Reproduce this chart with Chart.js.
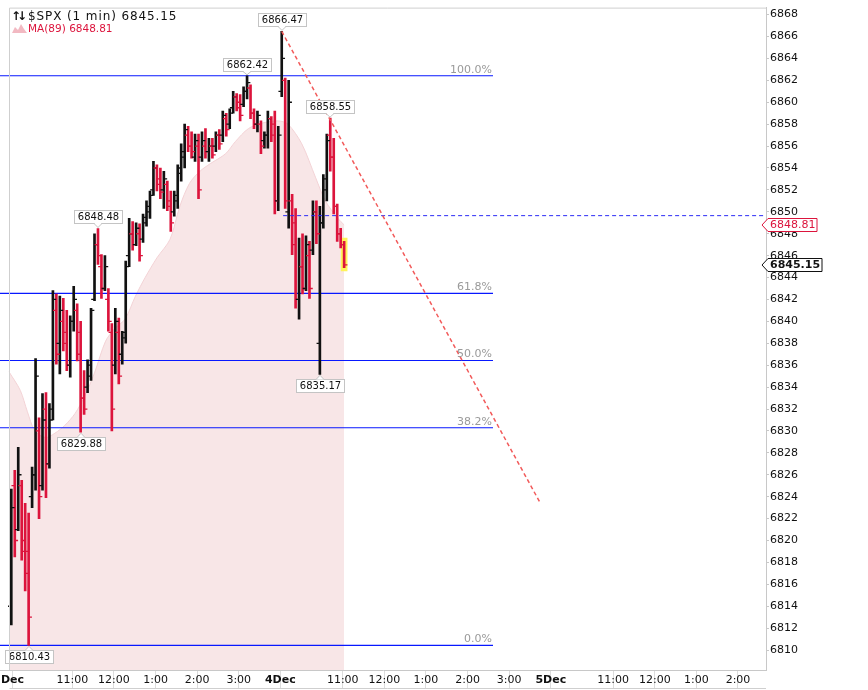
<!DOCTYPE html>
<html lang="en">
<head>
<meta charset="UTF-8">
<title>$SPX (1 min)</title>
<script src="https://cdn.jsdelivr.net/npm/chart.js"></script>
<style>
    html, body { margin: 0; padding: 0; background: #fff; }
    #wrap { position: relative; width: 868px; height: 690px; }
</style>
</head>
<body>
<div id="wrap"><canvas id="spxChart"></canvas></div>
<script>
// x values are session minutes: 0 = 9:30 Dec 3, 390 = open Dec 4, 780 = open Dec 5
const barStart = 2;
const barStep = 5;

const opens = [
    6814, 6825, 6821, 6825, 6820, 6819, 6824, 6826, 6830, 6825,
    6832, 6827, 6832, 6841, 6838, 6840, 6839, 6836, 6840, 6841,
    6839, 6833, 6834, 6835, 6842, 6847, 6845, 6843, 6842, 6839,
    6836, 6839, 6837, 6839, 6846, 6848, 6847, 6848, 6847.5, 6849,
    6850, 6852, 6854, 6853, 6852, 6852.5, 6851, 6850, 6851, 6853.5,
    6855, 6857, 6856, 6855, 6856, 6855, 6856, 6855.5, 6856, 6856,
    6857, 6857, 6858.5, 6858, 6859.5, 6860.5, 6860, 6859.8, 6861, 6861.3,
    6859, 6858, 6858, 6856.5, 6857, 6858.5, 6858, 6851, 6861, 6862,
    6850, 6851, 6849, 6842, 6845, 6843, 6846, 6846.5, 6850, 6838,
    6849, 6852, 6857, 6855, 6850.5, 6848, 6847
];
const highs = [
    6824.7, 6826.4, 6828.5, 6825.5, 6823.4, 6822.5, 6826.7, 6836.6, 6831.2, 6833.4,
    6833.5, 6832.5, 6842.8, 6842.5, 6842.3, 6842.1, 6841.0, 6840.5, 6843.2, 6841.6,
    6840.0, 6835.5, 6836.5, 6841.2, 6848.0, 6848.48, 6846.1, 6846.0, 6843.0, 6839.8,
    6841.2, 6840.3, 6839.1, 6845.5, 6849.4, 6849.1, 6849.0, 6848.9, 6849.8, 6851.0,
    6851.9, 6854.6, 6854.3, 6854.0, 6853.7, 6852.8, 6851.9, 6851.9, 6854.3, 6856.2,
    6858.0, 6857.8, 6857.3, 6857.1, 6857.1, 6857.3, 6857.6, 6856.7, 6856.7, 6857.3,
    6857.5, 6859.2, 6859.0, 6859.4, 6861.0, 6860.8, 6860.7, 6861.4, 6862.42, 6861.6,
    6859.4, 6859.2, 6858.3, 6857.3, 6859.2, 6858.7, 6859.2, 6857.8, 6866.47, 6862.2,
    6862.0, 6851.6, 6850.3, 6847.6, 6848.0, 6847.8, 6847.3, 6851.0, 6851.0, 6850.5,
    6853.4, 6857.1, 6858.55, 6856.7, 6850.7, 6848.5, 6847.3
];
const lows = [
    6812.3, 6818.5, 6820.9, 6818.2, 6815.4, 6810.43, 6823.0, 6824.6, 6822.0, 6824.6,
    6823.9, 6826.6, 6831.0, 6836.1, 6835.2, 6837.3, 6835.5, 6834.9, 6839.1, 6836.4,
    6829.88, 6831.5, 6833.5, 6834.6, 6841.9, 6845.2, 6842.1, 6842.8, 6839.1, 6830.0,
    6835.2, 6834.3, 6836.1, 6838.0, 6845.0, 6846.5, 6846.9, 6845.5, 6847.2, 6848.7,
    6849.4, 6851.5, 6851.9, 6851.2, 6850.3, 6850.1, 6848.2, 6849.6, 6850.3, 6852.8,
    6854.0, 6855.5, 6854.9, 6854.6, 6851.2, 6854.6, 6854.9, 6854.6, 6854.9, 6855.5,
    6855.7, 6856.4, 6856.9, 6857.6, 6859.0, 6859.2, 6858.3, 6859.6, 6860.3, 6858.5,
    6857.6, 6857.3, 6855.3, 6855.8, 6855.8, 6856.4, 6849.8, 6850.1, 6860.5, 6850.3,
    6848.5, 6846.1, 6841.2, 6840.2, 6842.5, 6842.8, 6842.1, 6846.1, 6847.1, 6835.17,
    6848.5, 6851.0, 6853.7, 6849.8, 6847.3, 6846.7, 6844.9
];
const closes = [
    6823, 6820, 6826, 6819, 6817, 6813, 6826, 6835, 6824, 6831,
    6827, 6831, 6842, 6837, 6841, 6838, 6836, 6840, 6842, 6837,
    6833, 6832, 6836, 6841, 6847, 6846, 6843, 6845, 6840, 6832,
    6840, 6835, 6838.5, 6845, 6848, 6847, 6848.5, 6846, 6849.5, 6850.5,
    6851.5, 6854, 6852.5, 6851.8, 6853, 6850.5, 6849, 6851.5, 6854, 6855.5,
    6857.5, 6856, 6855.5, 6856.5, 6852, 6856.5, 6855.5, 6856, 6855.2, 6857,
    6856.2, 6858.8, 6857.5, 6859, 6860.5, 6859.5, 6858.8, 6861, 6861.8, 6859,
    6858, 6858.8, 6856, 6857, 6858.5, 6857, 6851, 6857, 6864, 6851,
    6860, 6847, 6842, 6845, 6843, 6847, 6843, 6850, 6848, 6849,
    6853, 6856.5, 6855, 6850.5, 6848, 6847, 6845.15
];

// MA(89) outline
const maTimes = [-1.3, 15, 25, 36, 51, 65, 79, 94, 108, 122, 138, 152, 166, 181, 195, 212,
    231, 245, 259, 274, 289, 311, 325, 344, 364, 387, 401, 421, 441, 455, 473, 482];
const maValues = [6835.4, 6833.7, 6831.8, 6830.0, 6829.4, 6829.8, 6830.5, 6831.6, 6833.2, 6835.3,
    6838.2, 6839.4, 6840.2, 6842.3, 6844.0, 6845.8, 6847.5, 6850.5, 6852.6, 6853.7, 6854.4,
    6855.3, 6856.4, 6857.6, 6858.1, 6858.3, 6858.0, 6856.2, 6853.1, 6851.0, 6849.4, 6848.81];

// Fibonacci retracement 6810.43 -> 6862.42
const fibLevels = [6862.42, 6842.56, 6836.43, 6830.29, 6810.43];
const fibLabels = ['100.0%', '61.8%', '50.0%', '38.2%', '0.0%'];
const fibSpan = [-14.3, 696.7];

const trendTimes = [392, 764.5];
const trendValues = [6866.47, 6823.46];
const levelValue = 6849.65;
const levelSpan = [394, 1090.4];

// price annotations
const annoTimes = [392, 342, 462, 127, 102, 447, 27];
const annoPrices = [6866.47, 6862.42, 6858.55, 6848.48, 6829.88, 6835.17, 6810.43];
const annoBelow = [false, false, false, false, true, true, true];

const xRange = [-14.3, 1090.4];
const plotStart = -1.3;
const xTickValues = [3.7, 90, 150, 210, 270, 330, 390, 480, 540, 600, 660, 720, 780, 870, 930, 990, 1050];
const xTickLabels = ['Dec', '11:00', '12:00', '1:00', '2:00', '3:00', '4Dec', '11:00', '12:00', '1:00',
    '2:00', '3:00', '5Dec', '11:00', '12:00', '1:00', '2:00'];
const yRange = [6808.18, 6868.64];
const yTickValues = [6810, 6812, 6814, 6816, 6818, 6820, 6822, 6824, 6826, 6828, 6830, 6832, 6834,
    6836, 6838, 6840, 6842, 6844, 6846, 6848, 6850, 6852, 6854, 6856, 6858, 6860, 6862, 6864, 6866, 6868];

const UP = '#111111';
const DOWN = '#dc143c';
const tickOff = 2.3;

const barTime = i => barStart + i * barStep;
const barColors = closes.map((c, i) => c >= opens[i] ? UP : DOWN);
const last = closes.length - 1;

function tagBox(ctx, px, py, text, below) {
    ctx.save();
    ctx.font = '10px "DejaVu Sans"';
    const w = Math.round(ctx.measureText(text).width) + 7;
    const h = 13;
    const bx = Math.round(px - w / 2) + 0.5;
    const by = below ? Math.round(py + 5) + 0.5 : Math.round(py - 5 - h) + 0.5;
    ctx.fillStyle = '#fff';
    ctx.strokeStyle = '#c4c4c4';
    ctx.lineWidth = 1;
    ctx.fillRect(bx, by, w, h);
    ctx.strokeRect(bx, by, w, h);
    // pointer
    const edge = below ? by : by + h;
    const tip = below ? py + 1 : py - 1;
    ctx.beginPath();
    ctx.moveTo(px - 4, edge);
    ctx.lineTo(px, tip);
    ctx.lineTo(px + 4, edge);
    ctx.fill();
    ctx.stroke();
    ctx.fillRect(px - 3, edge - (below ? -0.5 : 1), 6, 1.5);
    ctx.fillStyle = '#111';
    ctx.textAlign = 'center';
    ctx.textBaseline = 'middle';
    ctx.fillText(text, bx + w / 2, by + h / 2 + 0.5);
    ctx.restore();
}

function priceTag(ctx, x, y, text, color, bold) {
    ctx.save();
    ctx.font = (bold ? 'bold ' : '') + '11px "DejaVu Sans"';
    const w = Math.round(ctx.measureText(text).width) + 4;
    const h = 13;
    const top = Math.round(y - h / 2) + 0.5;
    ctx.beginPath();
    ctx.moveTo(x - 4, top + h / 2);
    ctx.lineTo(x + 2, top);
    ctx.lineTo(x + 2 + w, top);
    ctx.lineTo(x + 2 + w, top + h);
    ctx.lineTo(x + 2, top + h);
    ctx.closePath();
    ctx.fillStyle = '#fff';
    ctx.fill();
    ctx.strokeStyle = color;
    ctx.lineWidth = 1;
    ctx.stroke();
    ctx.fillStyle = color;
    ctx.textAlign = 'left';
    ctx.textBaseline = 'middle';
    ctx.fillText(text, x + 4, top + h / 2 + 0.5);
    ctx.restore();
}

const overlay = {
    id: 'overlay',
    afterDatasetsDraw(chart) {
        const ctx = chart.ctx;
        const xs = chart.scales.x, ys = chart.scales.y;
        // fib level captions
        ctx.save();
        ctx.font = '11px "DejaVu Sans"';
        ctx.fillStyle = '#9a9a9a';
        ctx.textAlign = 'right';
        ctx.textBaseline = 'alphabetic';
        fibLevels.forEach((lv, i) => {
            ctx.fillText(fibLabels[i], xs.getPixelForValue(fibSpan[1]) - 1, ys.getPixelForValue(lv) - 3);
        });
        ctx.restore();
        annoPrices.forEach((p, i) => {
            tagBox(ctx, Math.round(xs.getPixelForValue(annoTimes[i])), ys.getPixelForValue(p), p.toFixed(2), annoBelow[i]);
        });
    },
    afterDraw(chart) {
        const ctx = chart.ctx;
        const area = chart.chartArea;
        const xs = chart.scales.x, ys = chart.scales.y;
        const left = Math.round(xs.getPixelForValue(plotStart)) + 0.5;
        ctx.save();
        ctx.strokeStyle = '#cfcfcf';
        ctx.lineWidth = 1;
        ctx.beginPath();
        ctx.moveTo(left, area.bottom);
        ctx.lineTo(left, area.top + 0.5);
        ctx.lineTo(area.right, area.top + 0.5);
        ctx.moveTo(left, 688.5);
        ctx.lineTo(area.right, 688.5);
        ctx.stroke();

        // legend
        ctx.fillStyle = '#111';
        ctx.font = 'bold 12px "DejaVu Sans"';
        ctx.textBaseline = 'alphabetic';
        ctx.fillText('\u2191', 11, 20);
        ctx.fillText('\u2193', 17, 20);
        ctx.font = '12px "DejaVu Sans"';
        ctx.letterSpacing = '0.9px';
        ctx.fillText('$SPX (1 min) ' + closes[last].toFixed(2), 28, 20);
        ctx.letterSpacing = '0px';
        ctx.fillStyle = '#f2b9c2';
        ctx.beginPath();
        ctx.moveTo(12, 33); ctx.lineTo(15, 27); ctx.lineTo(18, 30); ctx.lineTo(21, 24);
        ctx.lineTo(24, 29); ctx.lineTo(27, 33); ctx.closePath();
        ctx.fill();
        ctx.fillStyle = DOWN;
        ctx.font = '10.5px "DejaVu Sans"';
        ctx.fillText('MA(89) ' + maValues[maValues.length - 1].toFixed(2), 28, 32);
        ctx.restore();

        // right-hand price tags
        priceTag(ctx, area.right, ys.getPixelForValue(maValues[maValues.length - 1]),
            maValues[maValues.length - 1].toFixed(2), DOWN, false);
        priceTag(ctx, area.right, ys.getPixelForValue(closes[last]), closes[last].toFixed(2), '#111', true);
    }
};

const fibData = [];
fibLevels.forEach(lv => {
    fibData.push({ x: fibSpan[0], y: lv }, { x: fibSpan[1], y: lv }, { x: fibSpan[1], y: null });
});

new Chart(document.getElementById('spxChart'), {
    type: 'scatter',
    data: {
        datasets: [
            {
                type: 'line', order: 10,
                data: maTimes.map((t, i) => ({ x: t, y: maValues[i] })),
                borderColor: '#f3d3d6', borderWidth: 1,
                backgroundColor: '#f8e6e7', fill: 'start',
                pointRadius: 0, tension: 0.3
            },
            {
                type: 'line', order: 9,
                data: fibData, spanGaps: false,
                borderColor: '#0818ff', borderWidth: 1.2,
                pointRadius: 0, fill: false
            },
            {
                type: 'bar', order: 7, grouped: false,
                data: [{ x: barTime(last), y: [lows[last] - 0.3, highs[last] + 0.3] }],
                backgroundColor: '#fff35a', barThickness: 6
            },
            {
                type: 'bar', order: 5, grouped: false,
                data: highs.map((h, i) => ({ x: barTime(i), y: [lows[i], h] })),
                backgroundColor: barColors, barThickness: 2
            },
            {
                type: 'scatter', order: 4,
                data: opens.map((o, i) => ({ x: barTime(i) - tickOff, y: o })),
                pointStyle: 'line', pointRadius: 1.7, borderWidth: 1.3,
                pointBorderColor: barColors, borderColor: barColors
            },
            {
                type: 'scatter', order: 4,
                data: closes.map((c, i) => ({ x: barTime(i) + tickOff, y: c })),
                pointStyle: 'line', pointRadius: 1.7, borderWidth: 1.3,
                pointBorderColor: barColors, borderColor: barColors
            },
            {
                type: 'line', order: 3,
                data: [{ x: levelSpan[0], y: levelValue }, { x: levelSpan[1], y: levelValue }],
                borderColor: '#2a2af5', borderWidth: 1, borderDash: [4, 3],
                pointRadius: 0, fill: false
            },
            {
                type: 'line', order: 1,
                data: trendTimes.map((t, i) => ({ x: t, y: trendValues[i] })),
                borderColor: '#f25a5a', borderWidth: 1.5, borderDash: [4, 3],
                pointRadius: 0, fill: false
            }
        ]
    },
    options: {
        responsive: true,
        maintainAspectRatio: false,
        animation: false,
        events: [],
        layout: { autoPadding: false, padding: { top: 6, left: 0, right: 0, bottom: 0 } },
        plugins: { legend: { display: false }, tooltip: { enabled: false } },
        scales: {
            x: {
                type: 'linear', min: xRange[0], max: xRange[1], offset: false,
                grid: { drawOnChartArea: false, tickLength: 18, color: '#dcdcdc', offset: false },
                border: { color: '#c8c8c8' },
                ticks: {
                    autoSkip: false, maxRotation: 0, minRotation: 0, align: 'center', padding: -14, color: '#111',
                    font: ctx => ({ family: 'DejaVu Sans', size: 11, weight: /Dec/.test(xTickLabels[ctx.index]) ? 'bold' : 'normal' }),
                    callback: (v, i) => xTickLabels[i]
                },
                afterBuildTicks: s => { s.ticks = xTickValues.map(v => ({ value: v })); },
                afterFit: s => { s.height = 20; s.paddingLeft = 0; s.paddingRight = 0; }
            },
            y: {
                type: 'linear', position: 'right', min: yRange[0], max: yRange[1], beginAtZero: false,
                grid: { drawOnChartArea: false, tickLength: 3, color: '#c8c8c8' },
                border: { color: '#c8c8c8' },
                ticks: { padding: 1, color: '#111', font: { family: 'DejaVu Sans', size: 11 }, callback: v => String(v) },
                afterBuildTicks: s => { s.ticks = yTickValues.map(v => ({ value: v })); },
                afterFit: s => { s.width = 102; }
            }
        }
    },
    plugins: [overlay]
});
</script>
</body>
</html>
